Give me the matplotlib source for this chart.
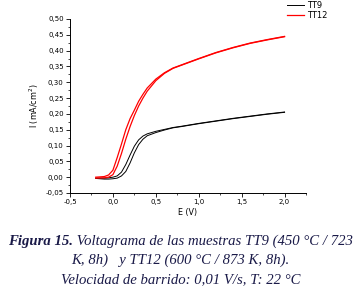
import matplotlib
matplotlib.use("Agg")
import matplotlib.pyplot as plt
from matplotlib.ticker import MultipleLocator, FuncFormatter
import numpy as np

# ---- data ----
E = [-0.2, -0.1, -0.05, 0.0, 0.05, 0.1, 0.15, 0.2, 0.25, 0.3, 0.35, 0.4,
     0.5, 0.6, 0.7, 0.8, 1.0, 1.2, 1.4, 1.6, 1.8, 2.0]
tt12_a = [0.0, 0.002, 0.007, 0.022, 0.062, 0.105, 0.15, 0.185, 0.212, 0.240, 0.262, 0.282,
          0.310, 0.330, 0.345, 0.355, 0.375, 0.394, 0.410, 0.424, 0.435, 0.445]
tt12_b = [-0.003, -0.002, 0.0, 0.008, 0.035, 0.075, 0.12, 0.16, 0.195, 0.225, 0.25, 0.272,
          0.305, 0.328, 0.344, 0.354, 0.374, 0.393, 0.409, 0.423, 0.434, 0.444]
tt9_a = [-0.003, -0.003, -0.002, 0.0, 0.004, 0.016, 0.04, 0.07, 0.098, 0.118, 0.130, 0.137,
         0.145, 0.151, 0.157, 0.161, 0.170, 0.178, 0.186, 0.193, 0.200, 0.206]
tt9_b = [-0.004, -0.006, -0.006, -0.005, -0.003, 0.004, 0.018, 0.045, 0.077, 0.103, 0.120, 0.131,
         0.141, 0.149, 0.156, 0.160, 0.169, 0.177, 0.185, 0.192, 0.199, 0.205]
series_labels = ["TT9", "TT12"]
xticks = [-0.5, 0.0, 0.5, 1.0, 1.5, 2.0]
yticks = [-0.05, 0.0, 0.05, 0.10, 0.15, 0.20, 0.25, 0.30, 0.35, 0.40, 0.45, 0.50]
caption_bold = "Figura 15."
caption_l1 = " Voltagrama de las muestras TT9 (450 °C / 723"
caption_l2 = "K, 8h)   y TT12 (600 °C / 873 K, 8h)."
caption_l3 = "Velocidad de barrido: 0,01 V/s, T: 22 °C"

W, H = 361, 289
fig = plt.figure(figsize=(W / 100, H / 100), dpi=100)
ax = fig.add_axes([70 / W, 1 - 193 / H, (306 - 70) / W, (193 - 19) / H])

ax.plot(E, tt9_a, color="black", lw=0.7, label=series_labels[0])
ax.plot(E, tt9_b, color="black", lw=0.7)
ax.plot(E, tt12_a, color="red", lw=0.9, label=series_labels[1])
ax.plot(E, tt12_b, color="red", lw=0.9)

ax.set_xlim(-0.5, 2.25)
ax.set_ylim(-0.05, 0.5)
for s in ["top", "right"]:
    ax.spines[s].set_visible(False)
for s in ["left", "bottom"]:
    ax.spines[s].set_linewidth(0.7)

comma = FuncFormatter(lambda v, p: ("%.1f" % v).replace(".", ","))
commay = FuncFormatter(lambda v, p: ("%.2f" % v).replace(".", ","))
ax.set_xticks(xticks)
ax.set_yticks(yticks)
ax.xaxis.set_major_formatter(comma)
ax.yaxis.set_major_formatter(commay)
ax.xaxis.set_minor_locator(MultipleLocator(0.25))
ax.yaxis.set_minor_locator(MultipleLocator(0.025))
ax.tick_params(which="major", direction="out", length=3, width=0.6, labelsize=5, pad=1.5)
ax.tick_params(which="minor", direction="out", length=1.5, width=0.5)
ax.set_xlabel("E (V)", fontsize=5.8, labelpad=2)
ax.set_ylabel("I (mA/cm$^2$)", fontsize=5.8, labelpad=3)

fig.legend(loc="upper left", bbox_to_anchor=(281 / W, 1 + 5 / H), frameon=False,
           fontsize=6, handlelength=2.0, handletextpad=0.4, labelspacing=0.15,
           borderpad=0.2)

navy = "#1a1a48"
fig.canvas.draw()
r = fig.canvas.get_renderer()
fs = 10.6
t1 = fig.text(0, 1 - 245 / H, caption_bold, fontsize=fs, family="Liberation Serif",
              style="italic", weight="bold", color=navy, va="baseline", ha="left")
t2 = fig.text(0, 1 - 245 / H, caption_l1, fontsize=fs, family="Liberation Serif",
              style="italic", color=navy, va="baseline", ha="left")
w1 = t1.get_window_extent(r).width
w2 = t2.get_window_extent(r).width
x0 = (W / 2 - (w1 + w2) / 2)
t1.set_x(x0 / W)
t2.set_x((x0 + w1) / W)
fig.text(0.5, 1 - 264 / H, caption_l2, fontsize=fs, family="Liberation Serif",
         style="italic", color=navy, va="baseline", ha="center")
fig.text(0.5, 1 - 283 / H, caption_l3, fontsize=fs, family="Liberation Serif",
         style="italic", color=navy, va="baseline", ha="center")

fig.savefig("out.png", dpi=100)
